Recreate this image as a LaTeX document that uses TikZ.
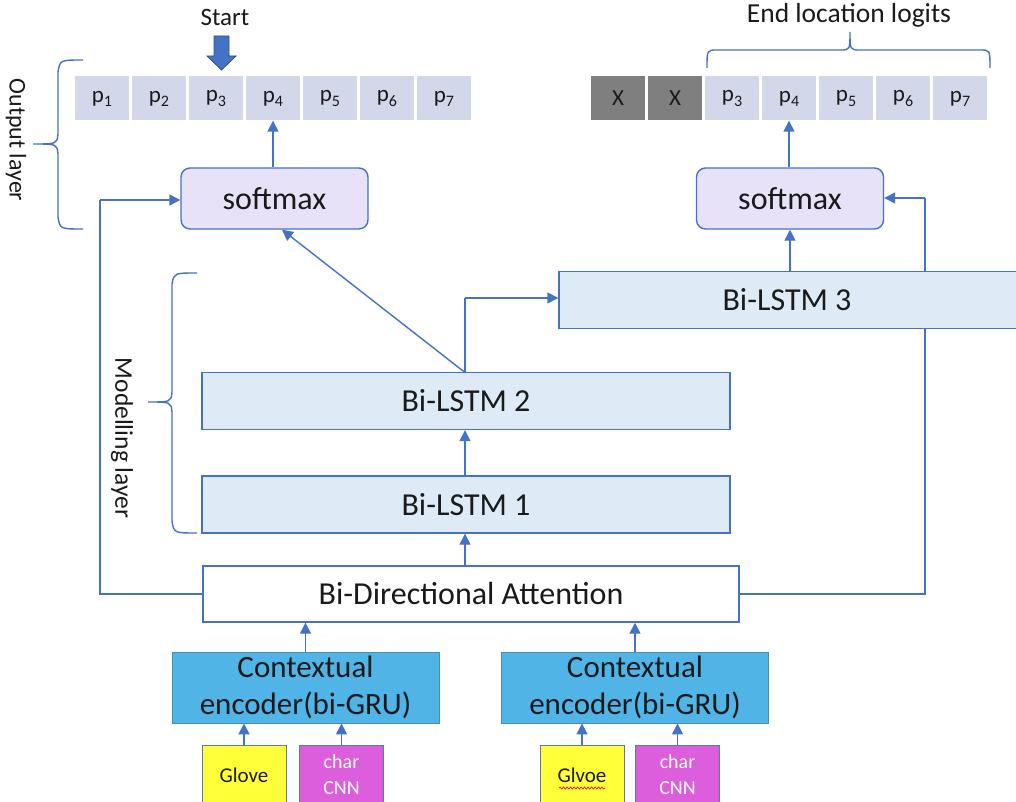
\documentclass[tikz,border=0pt]{standalone}
\usepackage{fontspec}
\setmainfont{Carlito}
\usetikzlibrary{arrows.meta,calc,decorations.pathmorphing}
\definecolor{lblue}{HTML}{4472C4}
\definecolor{pfill}{HTML}{D2D8EA}
\definecolor{xfill}{HTML}{7F7F7F}
\definecolor{smfill}{HTML}{E7E2F8}
\definecolor{lsfill}{HTML}{DEEBF7}
\definecolor{ctxfill}{HTML}{50B4E7}
\definecolor{glfill}{HTML}{FFFF3A}
\definecolor{chfill}{HTML}{DC5EDC}
\definecolor{txt}{HTML}{1A1A1A}
\newcommand{\psub}[1]{p\raisebox{-0.18em}{\fontsize{16}{16}\selectfont #1}}
\tikzset{
  cell/.style={fill=pfill, draw=none, minimum width=54pt, minimum height=44pt, inner sep=0pt, font=\fontsize{23}{25}\selectfont, text=txt},
  xcell/.style={cell, fill=xfill},
  smbox/.style={draw=lblue, line width=1.4pt, fill=smfill, rounded corners=9pt, minimum width=187pt, minimum height=61pt, inner sep=0pt, font=\fontsize{32}{34}\selectfont, text=txt},
  lsbox/.style={draw=lblue, line width=1.4pt, fill=lsfill, minimum height=57pt, inner sep=0pt, font=\fontsize{32}{34}\selectfont, text=txt},
  attbox/.style={draw=lblue, line width=1.4pt, fill=white, minimum width=536pt, minimum height=56pt, inner sep=0pt, font=\fontsize{32}{34}\selectfont, text=txt},
  ctxbox/.style={draw=ctxfill!80!black, line width=0.8pt, fill=ctxfill, minimum width=267pt, minimum height=71pt, inner sep=0pt, align=center, font=\fontsize{31}{37}\selectfont, text=txt},
  glbox/.style={draw=lblue!60!gray, line width=1pt, fill=glfill, minimum width=84pt, minimum height=60pt, inner sep=0pt, font=\fontsize{21}{23}\selectfont, text=txt},
  chbox/.style={draw=lblue!60!gray, line width=1pt, fill=chfill, minimum width=84pt, minimum height=60pt, inner sep=0pt, align=center, font=\fontsize{20}{26}\selectfont, text=white},
  conn/.style={draw=lblue, line width=1.4pt},
  arr/.style={conn, -{Triangle[length=11pt,width=11pt]}},
  brc/.style={draw=lblue, line width=1.4pt},
  lbl/.style={font=\fontsize{25}{27}\selectfont, text=txt, inner sep=0pt}
}
\begin{document}
\begin{tikzpicture}[x=1pt,y=-1pt]
\useasboundingbox (0,0) rectangle (1016,802);
\fill[white] (0,0) rectangle (1016,802);

% ---- top-left probability row
\node[cell] (l1) at (102,98.5) {\psub{1}};
\node[cell] (l2) at (159,98.5) {\psub{2}};
\node[cell] (l3) at (216,98.5) {\psub{3}};
\node[cell] (l4) at (273,98.5) {\psub{4}};
\node[cell] (l5) at (330,98.5) {\psub{5}};
\node[cell] (l6) at (387,98.5) {\psub{6}};
\node[cell] (l7) at (444,98.5) {\psub{7}};

% ---- top-right row
\node[xcell] (rx1) at (618,98.5) {X};
\node[xcell] (rx2) at (675,98.5) {X};
\node[cell] (r3) at (732,98.5) {\psub{3}};
\node[cell] (r4) at (789,98.5) {\psub{4}};
\node[cell] (r5) at (846,98.5) {\psub{5}};
\node[cell] (r6) at (903,98.5) {\psub{6}};
\node[cell] (r7) at (960,98.5) {\psub{7}};

% ---- labels
\node[lbl] (start) at (225,17) {Start};
\node[lbl, font=\fontsize{27.5}{29}\selectfont] (endl) at (849,15) {End location logits};
\node[lbl, font=\fontsize{24}{26}\selectfont, rotate=-90] (outl) at (16,140) {Output layer};
\node[lbl, font=\fontsize{25.5}{27}\selectfont, rotate=-90] (modl) at (122,438) {Modelling layer};

% start arrow
\filldraw[fill=lblue, draw=lblue!70!black, line width=0.8pt]
  (214,36) -- (229,36) -- (229,56) -- (236,56) -- (221.5,70) -- (207,56) -- (214,56) -- cycle;

% ---- braces
\draw[brc] (83,60) .. controls (60,60) .. (58,72) -- (58,134) .. controls (57,144) .. (33,144)
  .. controls (57,144) .. (58,154) -- (58,217) .. controls (60,229) .. (83,229);
\draw[brc] (197,273) .. controls (174,273) .. (172,284) -- (172,392) .. controls (171,402) .. (148,402)
  .. controls (171,402) .. (172,412) -- (172,521) .. controls (174,533) .. (197,533);
\draw[brc] (707,68) .. controls (707,50) .. (717,50) -- (840,50) .. controls (850,50) .. (850,32)
  .. controls (850,50) .. (860,50) -- (980,50) .. controls (990,50) .. (990,68);

% ---- main boxes
\node[smbox] (smL) at (274.5,198.5) {softmax};
\node[smbox] (smR) at (790,198.5) {softmax};

% lines passing behind boxes drawn first
\coordinate (attL) at (100,594);
\coordinate (attLup) at (100,200);
\coordinate (attR) at (925,594);
\coordinate (attRup) at (925,198);
\draw[conn] (203,594) -- (attL) -- (attLup);
\draw[arr] (attLup) -- (smL.west |- attLup);
\draw[conn] (739,594) -- (attR) -- (attRup);
\draw[arr] (attRup) -- (smR.east |- attRup);

\node[lsbox, minimum width=470pt] (b3) at (794,300) {};
\node[font=\fontsize{32}{34}\selectfont, text=txt, inner sep=0pt] (b3t) at (787,300) {Bi-LSTM 3};
\node[lsbox, minimum width=528pt] (b2) at (466,401) {Bi-LSTM 2};
\node[lsbox, minimum width=528pt] (b1) at (466,504.5) {Bi-LSTM 1};
\node[attbox] (att) at (471,594) {Bi-Directional Attention};
\node[ctxbox] (cL) at (305.5,687.5) {Contextual\\encoder(bi-GRU)};
\node[ctxbox] (cR) at (635,687.5) {Contextual\\encoder(bi-GRU)};
\node[glbox] (gL) at (244,775) {Glove};
\node[chbox] (chL) at (341.5,775) {char\\CNN};
\node[glbox] (gR) at (582,775) {Glvoe};
\node[chbox] (chR) at (677.5,775) {char\\CNN};
\draw[red, line width=0.7pt, decorate, decoration={snake, amplitude=1pt, segment length=3.5pt}]
  ($(gR.center)+(-23,13)$) -- ($(gR.center)+(23,13)$);

% ---- connectors
\draw[arr] (smL.north -| l4) -- (l4.south);
\draw[arr] (smR.north -| r4) -- (r4.south);
\draw[arr] (b3.north -| smR) -- (smR.south);
\coordinate (b2top) at (465,372.5);
\draw[arr] (b2top) -- (smL.south -| 282,0);
\coordinate (b2bend) at (465,298);
\draw[conn] (b2top) -- (b2bend);
\draw[arr] (b2bend) -- (b3.west |- b2bend);
\draw[arr] (b1.north -| b2top) -- (b2.south -| b2top);
\draw[arr] (att.north -| b2top) -- (b1.south -| b2top);
\draw[arr] (cL.north) -- (att.south -| cL);
\draw[arr] (cR.north) -- (att.south -| cR);
\draw[arr] (gL.north) -- (cL.south -| gL);
\draw[arr] (chL.north) -- (cL.south -| chL);
\draw[arr] (gR.north) -- (cR.south -| gR);
\draw[arr] (chR.north) -- (cR.south -| chR);
\end{tikzpicture}
\end{document}
